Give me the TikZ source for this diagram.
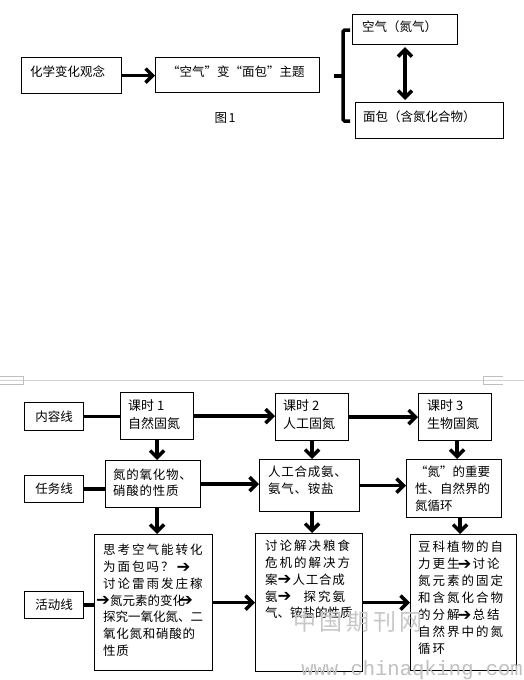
\documentclass[tikz,border=0pt]{standalone}
\usepackage{fontspec}
\setmainfont{Noto Sans CJK SC}
\newfontfamily\cjk{Noto Sans CJK SC}
\newfontfamily\cjkw[LetterSpace=16]{Noto Sans CJK SC}
\newfontfamily\cjkm[LetterSpace=6]{Noto Sans CJK SC}
\newfontfamily\dv{DejaVu Sans}
\newfontfamily\wmmono{Liberation Mono}
\usetikzlibrary{arrows.meta,calc}
\newcommand\inar{\smash{\raisebox{-0.5pt}{\dv\fontsize{16.5}{16}\selectfont ➔}}}
\begin{document}
\begin{tikzpicture}[x=1pt,y=-1pt,
  box/.style={draw, line width=1.1pt, inner sep=0pt, anchor=north west},
  lbl/.style={inner sep=0pt, font=\cjk\fontsize{12.5}{15}\selectfont},
  ml/.style={inner sep=0pt, anchor=north west, align=left},
  arr/.style={line width=3.5pt, -{Straight Barb[length=7pt,width=14pt]}},
  bar/.style={line width=3.5pt}]
\useasboundingbox[fill=white] (0,0) rectangle (524,680);

% ---------- Figure 1 ----------
\node[box, minimum width=100pt, minimum height=36pt] (hx) at (21,57) {};
\node[lbl, anchor=west] (hxt) at (30,72) {化学变化观念};
\node[box, minimum width=164pt, minimum height=35pt] (zt) at (155,57) {};
\node[lbl, anchor=west] (ztt) at (167,72) {“空气”变“面包”主题};
\node[box, minimum width=105pt, minimum height=30pt] (kq) at (352,14) {};
\node[lbl, anchor=west] (kqt) at (362,27) {空气（氮气）};
\node[box, minimum width=148pt, minimum height=36pt] (mb) at (355,102) {};
\node[lbl, anchor=west] (mbt) at (363,117) {面包（含氮化合物）};
\node[lbl] (fig) at (225,118) {图\kern1.5pt 1};

\draw[arr] (hx.east) -- (hx.east -| zt.west);
\coordinate (dbx) at (405,0);
\draw[line width=3.5pt, {Straight Barb[length=7pt,width=14pt]}-{Straight Barb[length=7pt,width=14pt]}]
  ($(kq.south -| dbx)+(0,2)$) -- ($(mb.north -| dbx)+(0,-2)$);
\coordinate (brt) at (350,30);
\coordinate (brb) at (350,121);
\coordinate (brm) at (334,76);
\draw[bar, rounded corners=1.5pt] (brt) -- ++(-7,0) -- ($(brb)+(-7,0)$) -- (brb);
\draw[bar] (brm) -- ++(9,0);

% ---------- page separator ----------
\draw[black!18, line width=0.8pt] (0,380) -- (524,380);
\draw[black!25, line width=0.6pt] (0,376) -- (23,376) -- (23,384) -- (0,384);
\draw[black!25, line width=0.6pt] (503,376) -- (483,376) -- (483,384) -- (503,384);

% ---------- Figure 2 ----------
\node[box, minimum width=59pt, minimum height=28pt, font=\cjk\fontsize{12.5}{15}\selectfont] (nr) at (24,402) {内容线};
\node[box, minimum width=59pt, minimum height=27pt, font=\cjk\fontsize{12.5}{15}\selectfont] (rw) at (24,475) {任务线};
\node[box, minimum width=59pt, minimum height=27pt, font=\cjk\fontsize{12.5}{15}\selectfont] (hd) at (24,591) {活动线};

\node[box, minimum width=73pt, minimum height=47pt] (k1) at (120,392) {};
\node[ml, font=\cjk\fontsize{13}{18}\selectfont] (k1t) at (128,399) {课时 1\\自然固氮};
\node[box, minimum width=73pt, minimum height=47pt] (k2) at (275,393) {};
\node[ml, font=\cjk\fontsize{13}{18}\selectfont] (k2t) at (283,399) {课时 2\\人工固氮};
\node[box, minimum width=73pt, minimum height=47pt] (k3) at (418,393) {};
\node[ml, font=\cjk\fontsize{13}{18}\selectfont] (k3t) at (427,399) {课时 3\\生物固氮};

\node[box, minimum width=95pt, minimum height=47pt] (t1) at (105,460) {};
\node[ml, font=\cjkm\fontsize{12.5}{15.5}\selectfont] (t1t) at (113,469) {氮的氧化物、\\硝酸的性质};
\node[box, minimum width=100pt, minimum height=52pt] (t2) at (259,459) {};
\node[ml, font=\cjkm\fontsize{12.5}{16.5}\selectfont] (t2t) at (268,466) {人工合成氨、\\氨气、铵盐};
\node[box, minimum width=95pt, minimum height=58pt] (t3) at (406,459) {};
\node[ml, font=\cjk\fontsize{12.5}{17}\selectfont] (t3t) at (415,466) {“氮”的重要\\性、自然界的\\氮循环};

\node[box, minimum width=118pt, minimum height=136pt] (a1) at (94,534) {};
\node[ml, font=\cjkw\fontsize{12.5}{16.8}\selectfont] (a1t) at (103,544)
  {思考空气能转化\\为面包吗？\kern3pt\inar\\讨论雷雨发庄稼\\\hspace*{-7pt}\inar{\cjk 氮元素的变化}\kern-6pt\inar\\{\cjk 探究一氧化氮、二}\\{\cjkm 氧化氮和硝酸的}\\{\cjkm 性质}};
\node[box, minimum width=107pt, minimum height=138pt] (a2) at (255,533) {};
\node[ml, font=\cjkw\fontsize{12.5}{16.8}\selectfont] (a2t) at (265,540)
  {讨论解决粮食\\危机的解决方\\案\inar\kern1pt{\cjkm 人工合成}\\氨\inar\hspace{12pt}探究氨\\{\cjk 气、铵盐的性质}};
\node[box, minimum width=106pt, minimum height=136pt] (a3) at (410,534) {};
\node[ml, font=\cjkw\fontsize{12.5}{17}\selectfont] (a3t) at (418,541)
  {豆科植物的自\\力更生\kern-2pt\inar\kern1pt 讨论\\氮元素的固定\\和含氮化合物\\的分解\kern-2pt\inar\kern1pt 总结\\自然界中的氮\\循环};

% connectors
\draw[bar] (nr.east) -- (nr.east -| k1.west);
\draw[arr] (k1.east) -- (k1.east -| k2.west);
\draw[arr] (k2.east) -- (k2.east -| k3.west);
\draw[arr] (k1.south) -- (k1.south |- t1.north);
\draw[arr] (k2.south) -- (k2.south |- t2.north);
\draw[arr] ($(k3.south)+(2,0)$) -- ($(k3.south |- t3.north)+(2,0)$);

\draw[bar] (rw.east) -- (rw.east -| t1.west);
\draw[arr] (t1.east) -- (t1.east -| t2.west);
\draw[arr] (t2.east) -- (t2.east -| t3.west);
\draw[arr] (t1.south -| k1.south) -- (k1.south |- a1.north);
\draw[arr] (t2.south -| k2.south) -- (k2.south |- a2.north);
\draw[arr] ($(t3.south)+(6,0)$) -- ($(t3.south |- a3.north)+(6,0)$);

\draw[bar] (hd.east) -- (hd.east -| a1.west);
\draw[arr] (a1.east) -- (a1.east -| a2.west);
\draw[arr] (a2.east) -- (a2.east -| a3.west);

% watermark
\node[inner sep=0pt, text=black!22, font=\cjkw\fontsize{23}{23}\selectfont] (wm1) at (358,622) {中国期刊网};
\node[inner sep=0pt, text=black!25, font=\wmmono\fontsize{20.5}{21}\selectfont, anchor=east] (wm2) at (523,670) {www.chinaqking.com};
\end{tikzpicture}
\end{document}
